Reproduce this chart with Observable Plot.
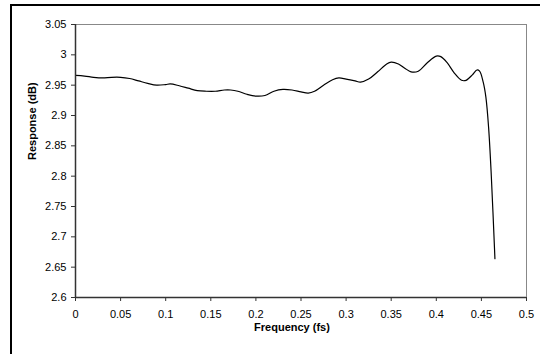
<!DOCTYPE html>
<html>
<head>
<meta charset="utf-8">
<script src="https://cdn.jsdelivr.net/npm/d3@7"></script>
<script src="https://cdn.jsdelivr.net/npm/@observablehq/plot@0.6"></script>
<style>
  html, body { margin: 0; padding: 0; background: #fff; }
  #wrap { position: relative; width: 540px; height: 354px; overflow: hidden; }
  #border { position: absolute; left: 10px; top: 4px; width: 600px; height: 400px;
            border-left: 2px solid #000; border-top: 2px solid #000; }
  svg { font-family: "Liberation Sans", Arial, sans-serif; }
</style>
</head>
<body>
<div id="wrap"><div id="border"></div></div>
<script>
// Data
const freq = [0, 0.01, 0.02, 0.03, 0.04, 0.05, 0.06, 0.07, 0.08, 0.09, 0.1, 0.105, 0.115, 0.125, 0.135, 0.145, 0.155, 0.165, 0.172, 0.18, 0.19, 0.2, 0.21, 0.22, 0.23, 0.24, 0.25, 0.258, 0.265, 0.275, 0.285, 0.292, 0.3, 0.31, 0.316, 0.325, 0.335, 0.345, 0.35, 0.358, 0.365, 0.372, 0.38, 0.39, 0.4, 0.405, 0.412, 0.42, 0.428, 0.433, 0.44, 0.445, 0.448, 0.452, 0.455, 0.458, 0.461, 0.465];
const response = [2.966, 2.965, 2.963, 2.962, 2.963, 2.963, 2.961, 2.957, 2.953, 2.950, 2.951, 2.952, 2.949, 2.945, 2.941, 2.940, 2.940, 2.942, 2.942, 2.940, 2.935, 2.932, 2.933, 2.940, 2.943, 2.942, 2.939, 2.937, 2.940, 2.950, 2.959, 2.962, 2.960, 2.957, 2.955, 2.960, 2.972, 2.985, 2.988, 2.985, 2.978, 2.972, 2.973, 2.987, 2.998, 2.997, 2.987, 2.970, 2.958, 2.958, 2.967, 2.975, 2.973, 2.955, 2.930, 2.880, 2.800, 2.664];
const xTicks = [0, 0.05, 0.1, 0.15, 0.2, 0.25, 0.3, 0.35, 0.4, 0.45, 0.5];
const yTicks = [2.6, 2.65, 2.7, 2.75, 2.8, 2.85, 2.9, 2.95, 3, 3.05];
const xTitle = "Frequency (fs)";
const yTitle = "Response (dB)";

const data = freq.map((f, i) => ({f, r: response[i]}));

const chart = Plot.plot({
  width: 540,
  height: 354,
  marginLeft: 75,
  marginRight: 14,
  marginTop: 24,
  marginBottom: 57,
  style: {fontSize: "11px", fontFamily: "'Liberation Sans', Arial, sans-serif", color: "#000", background: "transparent"},
  x: {domain: [0, 0.5]},
  y: {domain: [2.6, 3.05]},
  marks: [
    Plot.ruleY([3.05], {stroke: "#888", strokeWidth: 1}),
    Plot.ruleX([0.5], {stroke: "#888", strokeWidth: 1}),
    Plot.line(data, {x: "f", y: "r", curve: "catmull-rom", stroke: "#000", strokeWidth: 1.2}),
    Plot.axisX({ticks: xTicks, tickFormat: d => String(d), tickSize: 4, tickPadding: 9, label: null, stroke: "#333"}),
    Plot.axisY({ticks: yTicks, tickFormat: d => String(d), tickSize: 4, tickPadding: 5, label: null, stroke: "#333"}),
    Plot.ruleX([0], {stroke: "#333", strokeWidth: 1.5}),
    Plot.ruleY([2.6], {stroke: "#333", strokeWidth: 1.5}),
    Plot.text([xTitle], {text: d => d, frameAnchor: "bottom", dy: 33, dx: -9, fontWeight: "bold", fontSize: 11}),
    Plot.text([yTitle], {text: d => d, frameAnchor: "left", dx: -43, dy: -1, rotate: -90, fontWeight: "bold", fontSize: 11})
  ]
});
chart.style.position = "absolute";
chart.style.left = "0px";
chart.style.top = "0px";
document.getElementById("wrap").appendChild(chart);
</script>
</body>
</html>
